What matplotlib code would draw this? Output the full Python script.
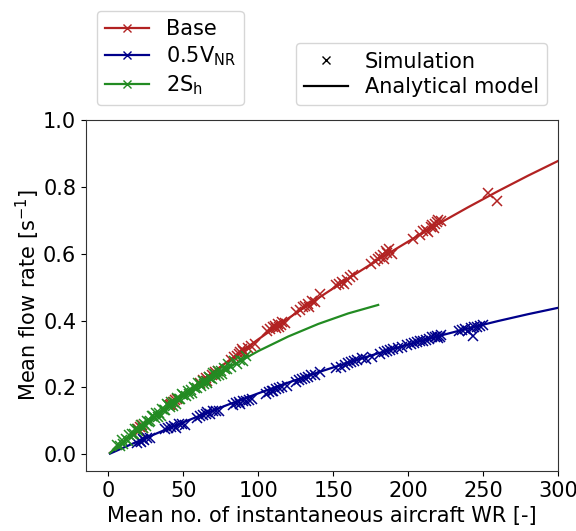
import matplotlib
matplotlib.use("Agg")
import matplotlib.pyplot as plt
from matplotlib.lines import Line2D

plt.rcParams['font.family'] = ['DejaVu Sans']
plt.rcParams['mathtext.default'] = 'regular'
plt.rcParams['font.size'] = 15

# analytical model curves
model_x = [1, 20, 40, 60, 80, 100, 120, 140, 160, 180, 200, 220, 240, 260, 280, 300]
base_model = [0.004, 0.0729, 0.1438, 0.2126, 0.2793, 0.3440, 0.4066, 0.4671, 0.5256,
              0.5821, 0.6364, 0.6887, 0.7390, 0.7872, 0.8334, 0.8774]
vnr_model = [0.002, 0.0394, 0.0773, 0.1138, 0.1488, 0.1824, 0.2145, 0.2452, 0.2744,
             0.3021, 0.3284, 0.3533, 0.3766, 0.3986, 0.4191, 0.4381]
sh_model_x = [1, 20, 40, 60, 80, 100, 120, 140, 160, 180]
sh_model = [0.004, 0.0739, 0.1417, 0.2034, 0.2592, 0.3088, 0.3524, 0.3899, 0.4214, 0.4468]

# simulation results
base_x = [19.5, 21, 22.5, 20.5, 23,
          41, 43, 44.5, 46, 42,
          61, 63, 65, 67, 69, 71, 66, 73,
          82, 84, 86, 88, 90, 87, 89, 91,
          93, 95, 98,
          106, 108, 110, 111, 112, 113, 115, 116, 114, 118,
          125, 128, 130, 131, 133, 134, 136, 138, 141,
          152, 154, 156, 157, 159, 161, 163,
          175, 178, 180, 181, 183, 184, 186, 187, 185, 189,
          203,
          208, 210, 212, 213, 215, 216, 218, 219, 220, 222, 217,
          253, 259]
base_y = [0.075, 0.082, 0.088, 0.070, 0.080,
          0.148, 0.155, 0.162, 0.165, 0.150,
          0.212, 0.222, 0.228, 0.232, 0.238, 0.245, 0.218, 0.250,
          0.282, 0.290, 0.295, 0.305, 0.310, 0.300, 0.315, 0.305,
          0.318, 0.325, 0.330,
          0.368, 0.375, 0.380, 0.385, 0.378, 0.390, 0.388, 0.395, 0.382, 0.392,
          0.425, 0.432, 0.440, 0.445, 0.450, 0.442, 0.458, 0.455, 0.478,
          0.505, 0.510, 0.515, 0.508, 0.522, 0.530, 0.535,
          0.570, 0.578, 0.585, 0.590, 0.595, 0.585, 0.602, 0.615, 0.607, 0.598,
          0.645,
          0.655, 0.668, 0.672, 0.665, 0.680, 0.685, 0.690, 0.695, 0.700, 0.698, 0.678,
          0.782, 0.757]

vnr_x = [19, 21, 23, 24, 26, 22, 28,
         38, 40, 42, 44, 45, 47, 49, 51,
         59, 61, 63, 65, 66, 68, 70, 72, 74,
         83, 85, 87, 88, 90, 92, 94, 96,
         105, 107, 109, 110, 112, 114, 116, 119,
         125, 127, 129, 131, 133, 135, 138, 141,
         152, 155, 158, 160, 162, 164, 166, 169, 172, 176,
         181, 184, 186, 188, 190, 193, 196, 199,
         202, 204, 206, 208, 210, 212,
         214, 216, 218, 219, 220, 222, 221,
         234, 236, 238, 240, 242, 244, 246, 248, 250, 243]
vnr_y = [0.035, 0.040, 0.045, 0.042, 0.050, 0.038, 0.048,
         0.075, 0.078, 0.082, 0.085, 0.080, 0.090, 0.092, 0.088,
         0.110, 0.115, 0.118, 0.120, 0.125, 0.122, 0.128, 0.130, 0.128,
         0.148, 0.152, 0.155, 0.150, 0.160, 0.158, 0.163, 0.165,
         0.180, 0.185, 0.190, 0.188, 0.195, 0.198, 0.200, 0.205,
         0.215, 0.222, 0.225, 0.228, 0.232, 0.236, 0.238, 0.245,
         0.258, 0.262, 0.268, 0.272, 0.275, 0.278, 0.282, 0.288, 0.285, 0.292,
         0.300, 0.305, 0.310, 0.312, 0.315, 0.318, 0.322, 0.328,
         0.330, 0.332, 0.336, 0.340, 0.338, 0.342,
         0.345, 0.350, 0.352, 0.355, 0.348, 0.358, 0.352,
         0.368, 0.372, 0.375, 0.370, 0.378, 0.382, 0.380, 0.385, 0.388, 0.355]

sh_x = [6, 8, 9, 10, 12, 13, 14, 16, 17, 18, 19, 20, 22, 23, 24, 25, 26, 27, 28, 29,
        30, 31, 32, 33, 34, 35, 36, 37, 38, 39, 40, 41, 42, 43, 44, 45, 46, 47, 48, 49,
        50, 52, 53, 54, 55, 56, 57, 58, 59, 60, 61, 62, 63, 64, 65, 66, 67, 68, 69,
        70, 71, 72, 73, 74, 75, 76, 77, 78, 79, 80, 82, 84, 86, 88, 90, 92]
sh_y = [0.028, 0.026, 0.042, 0.031, 0.047, 0.040, 0.058, 0.060, 0.060, 0.077, 0.075, 0.070,
        0.088, 0.078, 0.090, 0.085, 0.101, 0.098, 0.099, 0.115,
        0.114, 0.108, 0.123, 0.113, 0.124, 0.116, 0.135, 0.132, 0.132, 0.149,
        0.147, 0.141, 0.156, 0.145, 0.157, 0.149, 0.167, 0.164, 0.164, 0.180,
        0.178, 0.175, 0.190, 0.180, 0.191, 0.183, 0.201, 0.198, 0.198,
        0.213, 0.211, 0.205, 0.220, 0.209, 0.220, 0.212, 0.230, 0.227, 0.226,
        0.242, 0.240, 0.234, 0.248, 0.237, 0.248, 0.240, 0.257, 0.254, 0.254,
        0.269, 0.260, 0.278, 0.269, 0.282, 0.280, 0.294]

c_base = '#b22222'
c_vnr = '#00008b'
c_sh = '#228b22'

fig = plt.figure(figsize=(5.76, 5.31), dpi=100)
ax = fig.add_axes([0.1493, 0.113, 0.8194, 0.661])

ax.plot(model_x, base_model, color=c_base, lw=1.6)
ax.plot(base_x, base_y, 'x', color=c_base, ms=7, mew=1.1)
ax.plot(model_x, vnr_model, color=c_vnr, lw=1.6)
ax.plot(vnr_x, vnr_y, 'x', color=c_vnr, ms=7, mew=1.1)
ax.plot(sh_model_x, sh_model, color=c_sh, lw=1.6)
ax.plot(sh_x, sh_y, 'x', color=c_sh, ms=7, mew=1.1)

ax.set_xlim(-15, 300)
ax.set_ylim(-0.05, 1.0)
ax.set_xticks([0, 50, 100, 150, 200, 250, 300])
ax.set_yticks([0.0, 0.2, 0.4, 0.6, 0.8, 1.0])
ax.set_xlabel('Mean no. of instantaneous aircraft WR [-]')
ax.set_ylabel('Mean flow rate [s$^{-1}$]', labelpad=1)
for s in ax.spines.values():
    s.set_color('0.2')

h1 = [Line2D([], [], color=c_base, marker='x', lw=1.6, ms=6, mew=1.0),
      Line2D([], [], color=c_vnr, marker='x', lw=1.6, ms=6, mew=1.0),
      Line2D([], [], color=c_sh, marker='x', lw=1.6, ms=6, mew=1.0)]
leg1 = fig.legend(h1, ['Base', '0.5V$_{NR}$', '2S$_{h}$'], loc='lower left',
                  bbox_to_anchor=(0.168, 0.802), borderaxespad=0,
                  fontsize=15, handlelength=2.1, labelspacing=0.25)

h2 = [Line2D([], [], color='k', marker='x', ls='none', ms=6, mew=1.0),
      Line2D([], [], color='k', lw=1.6)]
leg2 = fig.legend(h2, ['Simulation', 'Analytical model'], loc='lower right',
                  bbox_to_anchor=(0.950, 0.802), borderaxespad=0,
                  fontsize=15, handlelength=2.1, labelspacing=0.25)

fig.savefig('out.png', dpi=100)
